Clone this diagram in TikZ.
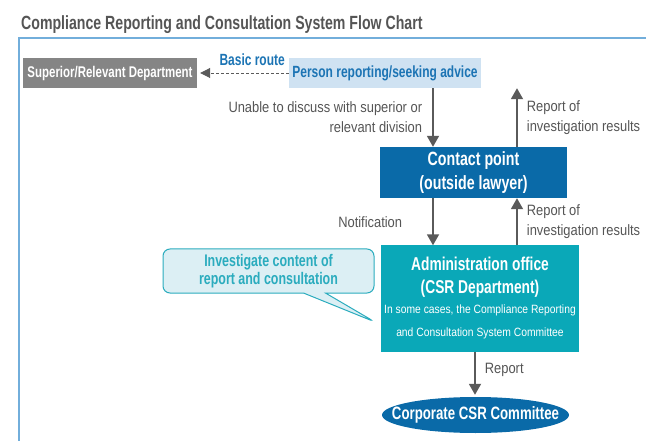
\documentclass[tikz,border=0pt]{standalone}
\usepackage{fontspec}
\setmainfont{Liberation Sans}[UprightFeatures={FakeStretch=0.86},BoldFeatures={FakeStretch=0.74}]
\usepackage{tikz}
\usetikzlibrary{positioning,calc,shapes.geometric,shapes.callouts,arrows.meta}
\definecolor{framebl}{HTML}{72AEDB}
\definecolor{supgray}{HTML}{858585}
\definecolor{personbg}{HTML}{CFE2F2}
\definecolor{routeblue}{HTML}{1C74B4}
\definecolor{contactblue}{HTML}{0A6AA8}
\definecolor{adminteal}{HTML}{0AA8B8}
\definecolor{calloutbg}{HTML}{DCEFF4}
\definecolor{calloutline}{HTML}{2BACBE}
\definecolor{textgray}{HTML}{555555}
\definecolor{arrowgray}{HTML}{5A5A5A}

\tikzset{
	boxtext/.style={font=\fontsize{17}{21}\selectfont\bfseries, text=white, align=center, inner sep=0pt},
	flowarrow/.style={draw=arrowgray, line width=1.8pt, -{Triangle[width=12pt,length=11pt]}},
	lbl/.style={font=\fontsize{15}{20}\selectfont, text=textgray, inner sep=0pt}
}

\begin{document}
\begin{tikzpicture}[x=1pt,y=-1pt]
	\useasboundingbox (0,0) rectangle (646,441);
	
	\node[anchor=base west, inner sep=0pt, text=textgray, font=\fontsize{19.1}{22}\selectfont\bfseries] (title) at (21,30) {Compliance Reporting and Consultation System Flow Chart};
	\draw[framebl, line width=1.3pt] (646,38) -- (19,38) -- (19,441);
	
	\node[boxtext, fill=supgray, minimum width=174pt, minimum height=30pt, font=\fontsize{15.5}{20}\selectfont\bfseries] (superior) at (110,73) {Superior/Relevant Department};
	
	\node[boxtext, fill=personbg, text=routeblue, minimum width=192pt, minimum height=30pt, font=\fontsize{16.2}{20}\selectfont\bfseries] (person) at (385,73) {Person reporting/seeking advice};
	
	\node[boxtext, fill=contactblue, minimum width=187pt, minimum height=51pt, font=\fontsize{19.2}{24}\selectfont\bfseries] (contact) at (473.5,172.5) {Contact point\\(outside lawyer)};
	
	\node[boxtext, fill=adminteal, minimum width=198pt, minimum height=106pt, font=\fontsize{18.6}{23}\selectfont\bfseries] (admin) at (480,298.5) {Administration office\\(CSR Department)\\[-3pt]\fontsize{12}{21}\selectfont\mdseries In some cases, the Compliance Reporting\\\fontsize{12}{21}\selectfont\mdseries and Consultation System Committee};
	
	\node[ellipse, boxtext, fill=contactblue, minimum width=187pt, minimum height=36pt, font=\fontsize{17.9}{21}\selectfont\bfseries] (csr) at (475.5,415) {\makebox[0pt]{Corporate CSR Committee}};
	
	\node[rectangle callout, rounded corners=7pt, draw=calloutline, line width=1pt, fill=calloutbg, text=calloutline, font=\fontsize{16.8}{18}\selectfont\bfseries, align=center, inner sep=0pt, minimum width=211pt, minimum height=44pt, callout absolute pointer={(375,322)}, callout pointer width=22pt] (invest) at (268.5,271) {Investigate content of\\report and consultation};
	
	% basic route
	\draw[draw=arrowgray, line width=0.9pt, dash pattern=on 3pt off 2pt, shorten >=3pt, -{Triangle[width=10pt,length=10pt]}] (person) -- (superior) node[pos=0.4, above=4pt, text=routeblue, font=\fontsize{16.2}{18}\selectfont\bfseries] (route) {Basic route};
	
	\coordinate (down) at (433,0);
	\coordinate (up) at (517,0);
	
	\draw[flowarrow] (person.south -| down) -- (contact.north -| down) node[lbl, midway, left=10pt, align=right] (unable) {Unable to discuss with superior or\\relevant division};
	\draw[flowarrow] (contact.north -| up) -- (person.south -| up) node[lbl, midway, right=9pt, align=left] (result1) {Report of\\investigation results};
	
	\draw[flowarrow] (contact.south -| down) -- (admin.north -| down) node[lbl, midway, left=30pt] (notify) {Notification};
	\draw[flowarrow] (admin.north -| up) -- (contact.south -| up) node[lbl, midway, right=9pt, align=left] (result2) {Report of\\investigation results};
	
	\draw[flowarrow, shorten >=2pt] (admin.south -| 475,0) -- (csr.north -| 475,0) node[lbl, pos=0.4, right=9pt] (report) {Report};
	
\end{tikzpicture}
\end{document}
